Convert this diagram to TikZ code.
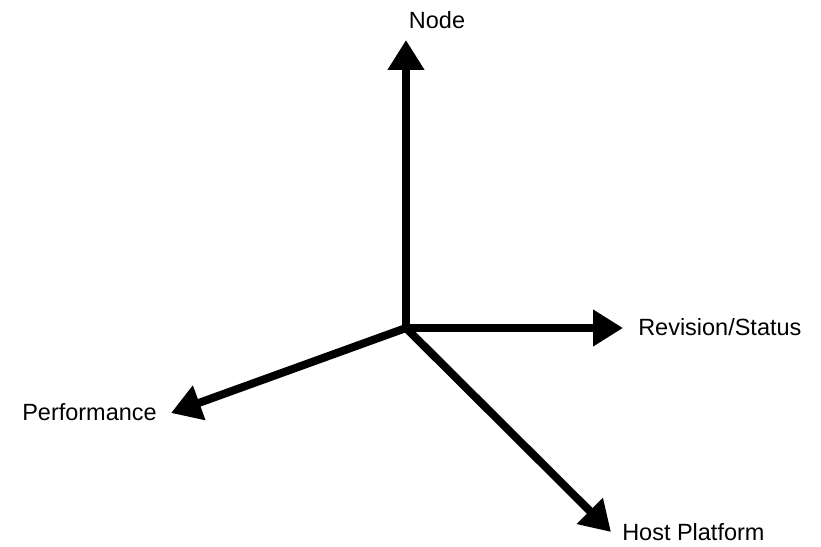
\documentclass[tikz,border=0pt]{standalone}
\usepackage{fontspec}
\setmainfont{Liberation Sans}
\usetikzlibrary{arrows.meta}

\tikzset{
  axis/.style={line width=0.2cm,-{Triangle[length=0.75cm,width=0.875cm]}},
  lbl/.style={inner sep=0pt,font=\fontsize{16.7}{20}\selectfont}
}

\begin{document}
\begin{tikzpicture}
        \useasboundingbox (0,0) rectangle (20.525,13.65);
        \coordinate (o) at (10.15,5.45);
        \coordinate (up) at (10.15,12.65);
        \coordinate (right) at (15.575,5.45);
        \coordinate (left) at (4.275,3.325);
        \coordinate (down) at (15.275,0.35);
        \draw[axis] (o) -- (up);
        \draw[axis] (o) -- (right);
        \draw[axis] (o) -- (left);
        \draw[axis] (o) -- (down);
        \node[lbl] (node) at (10.925,13.15) {Node};
        \node[lbl,anchor=west] (rev) at (15.95,5.475) {Revision/Status};
        \node[lbl,anchor=east] (perf) at (3.925,3.35) {Performance};
        \node[lbl,anchor=west] (host) at (15.55,0.34) {Host Platform};
\end{tikzpicture}
\end{document}
